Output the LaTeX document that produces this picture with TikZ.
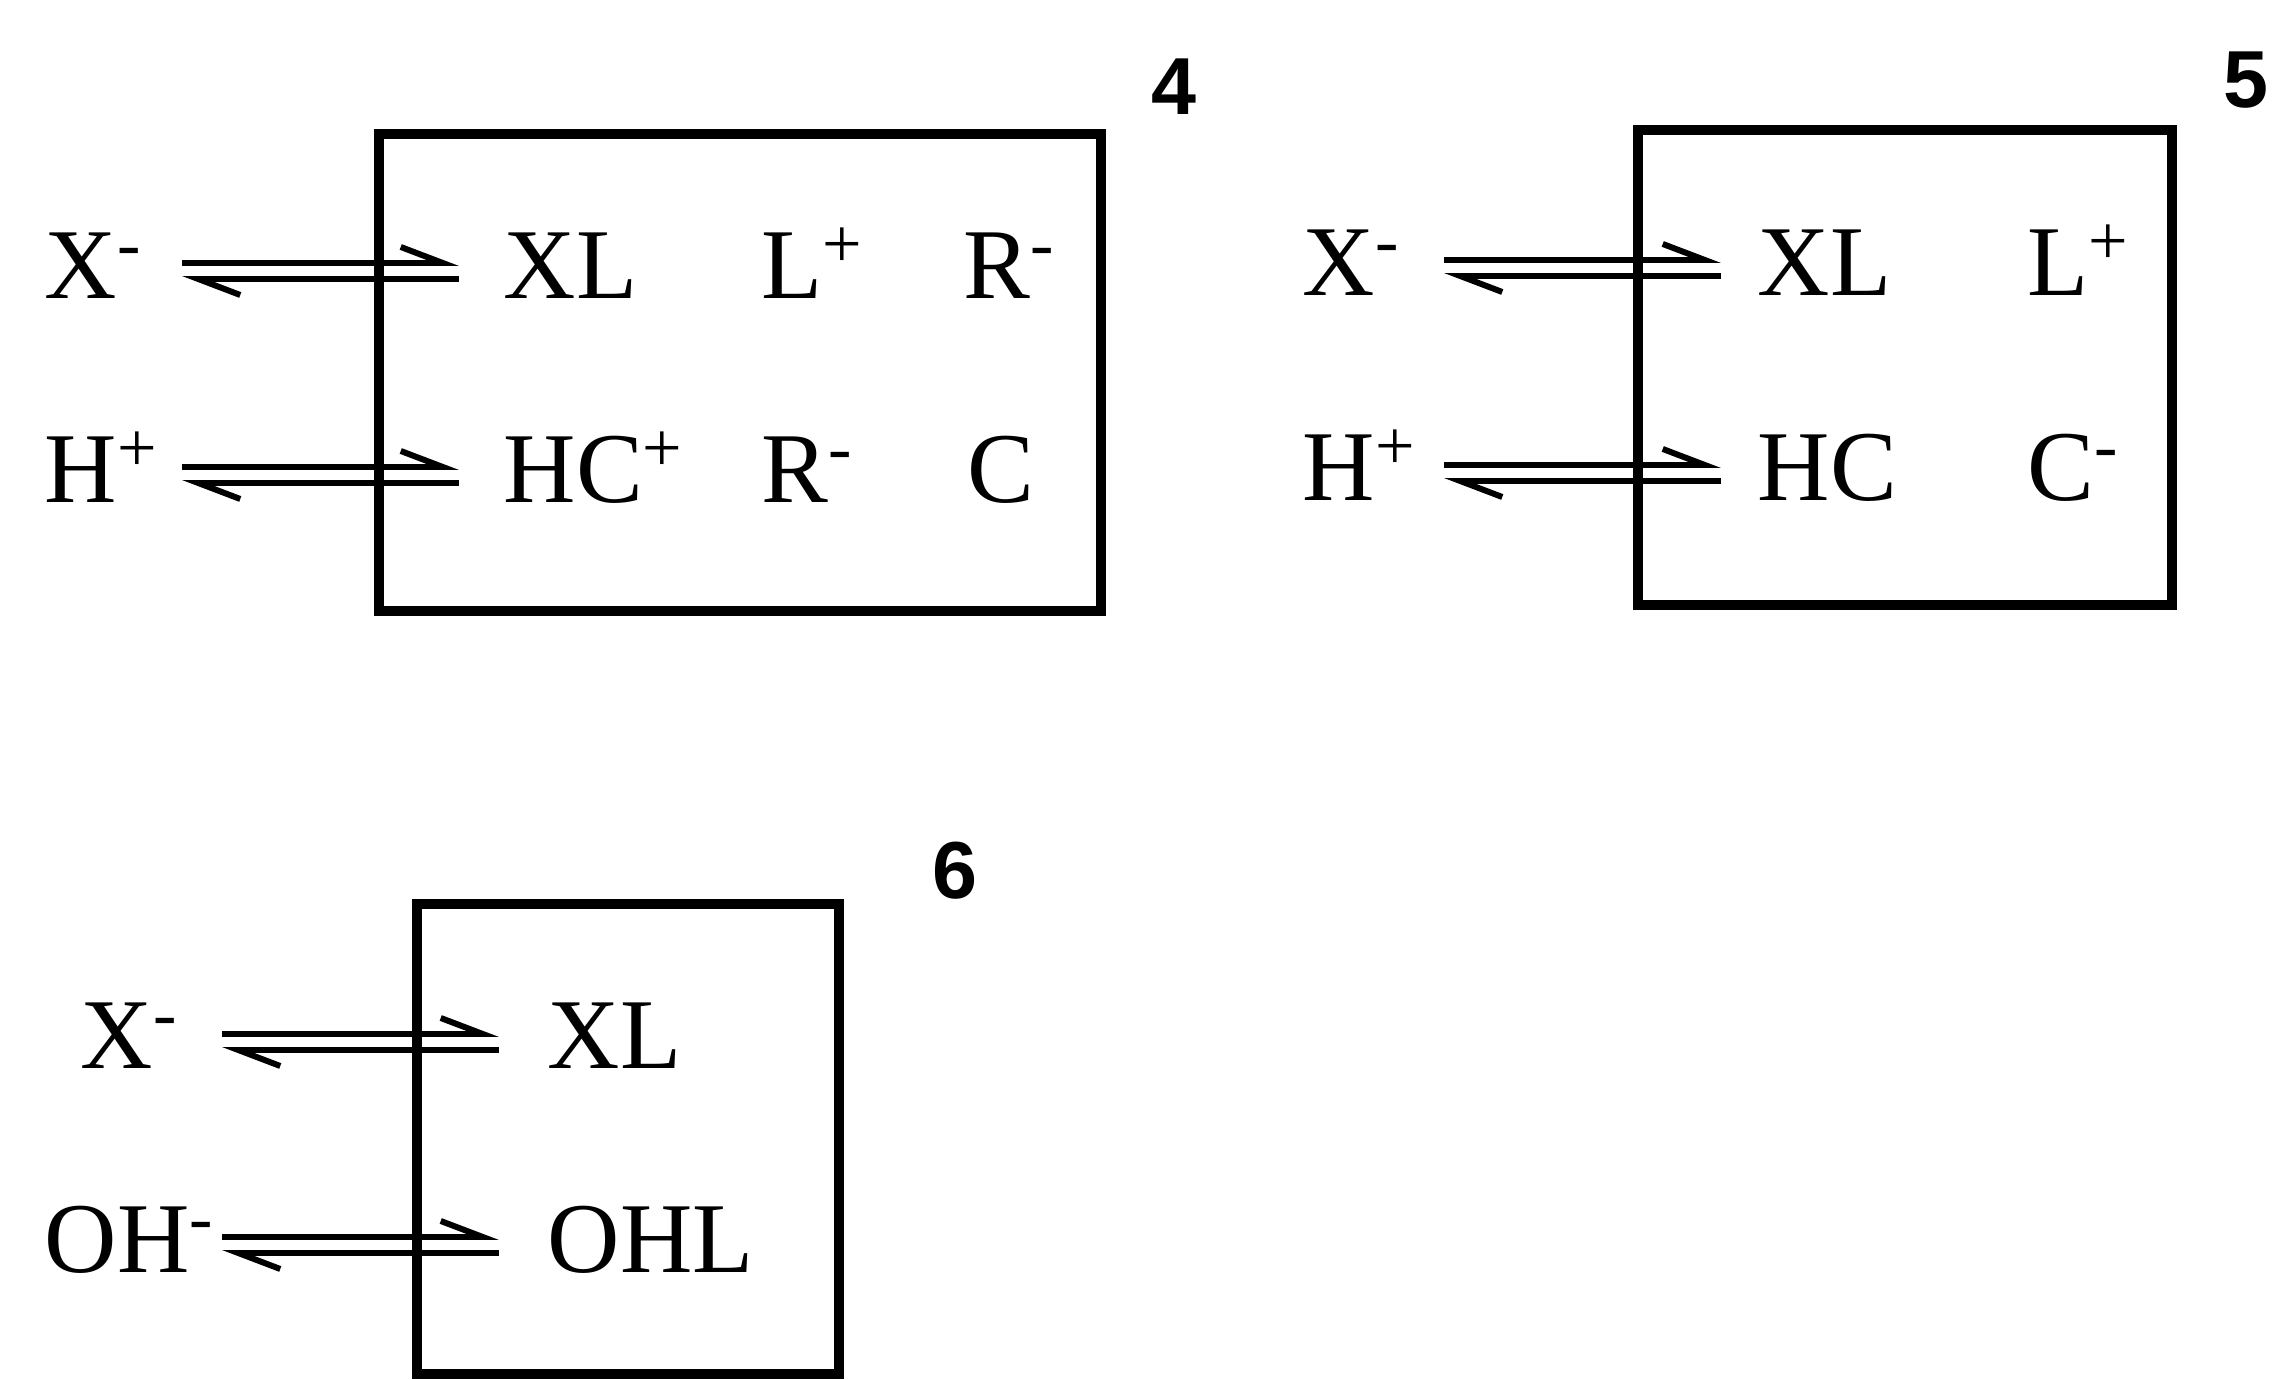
\documentclass[tikz,border=0pt]{standalone}
\usepackage{fontspec}
\setmainfont{Liberation Serif}
\newfontfamily\numfont{Liberation Sans}
\usepackage{tikz}
\usetikzlibrary{arrows.meta}

\tikzset{
  species/.style={anchor=base west, inner sep=0pt, font=\fontsize{28.5}{34}\selectfont},
  boxnum/.style={inner sep=0pt, font=\numfont\bfseries\fontsize{23}{28}\selectfont},
  box/.style={line width=3pt},
  half/.style={line width=1.7pt, -{Straight Barb[harpoon, length=0.42cm, width=0.32cm, line width=1.7pt]}},
}
% equilibrium arrow between two end points
\newcommand\eqm[2]{%
  \draw[half] ([yshift=0.08cm]#1) -- ([yshift=0.08cm]#2);
  \draw[half] ([yshift=-0.08cm]#2) -- ([yshift=-0.08cm]#1);}

\begin{document}
\begin{tikzpicture}[x=0.01cm, y=-0.01cm]
\useasboundingbox (0,0) rectangle (2287,1380);

% membrane 4
\draw[box] (379,134) rectangle (1101,611);
\node[boxnum] (N4) at (1174,87) {4};
\node[species] (X4) at (44,299) {X\textsuperscript{-}};
\node[species] (XL4) at (503,299) {XL};
\node[species] (L4) at (761,299) {L\textsuperscript{+}};
\node[species] (R4a) at (963,299) {R\textsuperscript{-}};
\node[species] (H4) at (44,503) {H\textsuperscript{+}};
\node[species] (HC4) at (503,503) {HC\textsuperscript{+}};
\node[species] (R4b) at (761,503) {R\textsuperscript{-}};
\node[species] (C4) at (967,503) {C};
\coordinate (a4l) at (182,271);
\coordinate (a4r) at (459,271);
\coordinate (b4l) at (182,475);
\coordinate (b4r) at (459,475);
\eqm{a4l}{a4r}
\eqm{b4l}{b4r}

% membrane 5
\draw[box] (1638,130) rectangle (2172,605);
\node[boxnum] (N5) at (2246,80) {5};
\node[species] (X5) at (1302,296) {X\textsuperscript{-}};
\node[species] (XL5) at (1757,296) {XL};
\node[species] (L5) at (2027,296) {L\textsuperscript{+}};
\node[species] (H5) at (1302,501) {H\textsuperscript{+}};
\node[species] (HC5) at (1757,501) {HC};
\node[species] (C5) at (2027,501) {C\textsuperscript{-}};
\coordinate (a5l) at (1444,268);
\coordinate (a5r) at (1721,268);
\coordinate (b5l) at (1444,473);
\coordinate (b5r) at (1721,473);
\eqm{a5l}{a5r}
\eqm{b5l}{b5r}

% membrane 6
\draw[box] (417,904) rectangle (839,1374);
\node[boxnum] (N6) at (955,871) {6};
\node[species] (X6) at (80,1069) {X\textsuperscript{-}};
\node[species] (XL6) at (547,1069) {XL};
\node[species] (OH6) at (44,1273) {OH\textsuperscript{-}};
\node[species] (OHL6) at (547,1273) {OHL};
\coordinate (a6l) at (222,1042);
\coordinate (a6r) at (499,1042);
\coordinate (b6l) at (222,1245);
\coordinate (b6r) at (499,1245);
\eqm{a6l}{a6r}
\eqm{b6l}{b6r}
\end{tikzpicture}
\end{document}
